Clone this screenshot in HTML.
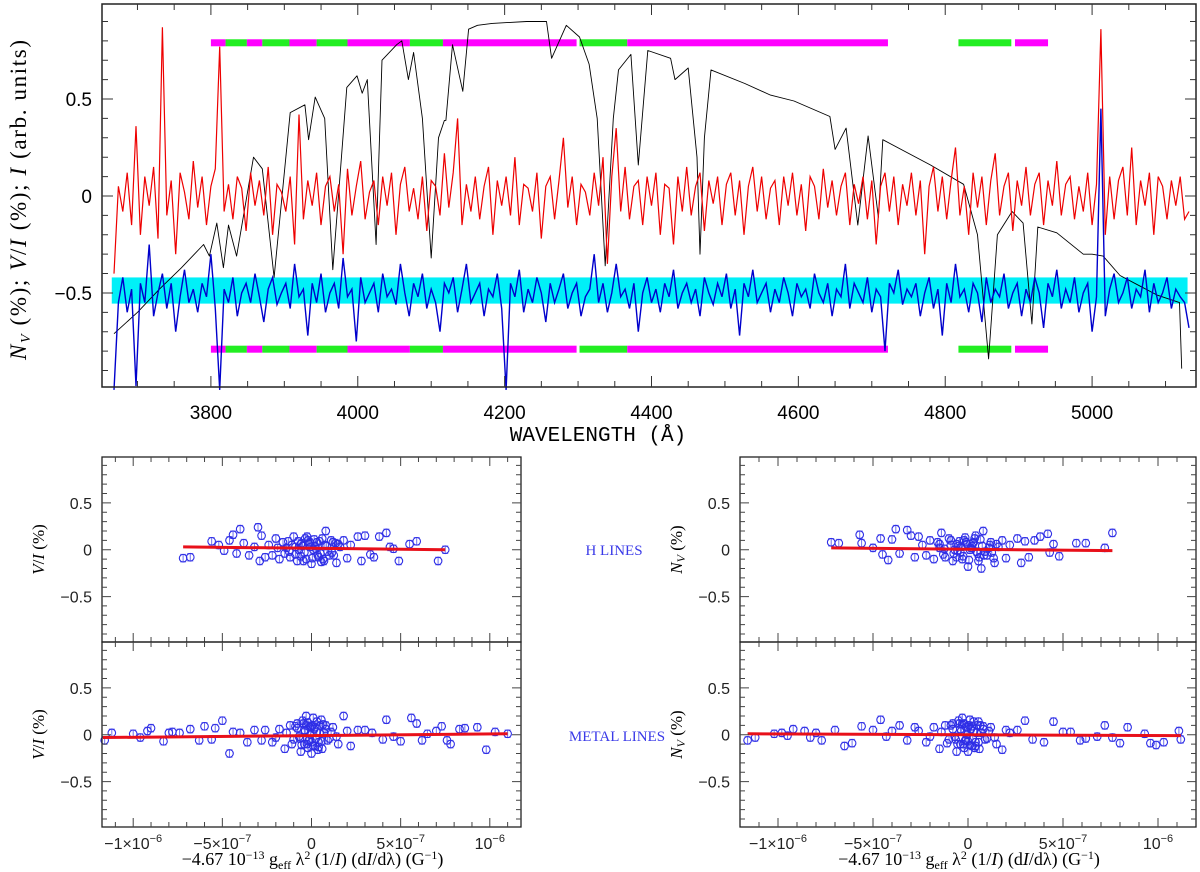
<!DOCTYPE html>
<html><head><meta charset="utf-8"><style>
html,body{margin:0;padding:0;background:#fff;}
svg{display:block;}
text{font-family:"Liberation Sans",sans-serif;}
.ser{font-family:"Liberation Serif",serif;}
.mono{font-family:"Liberation Mono",monospace;}
</style></head><body>
<svg id="fig" width="1200" height="872" viewBox="0 0 1200 872" xmlns="http://www.w3.org/2000/svg">
<g id="topPanel"></g>
<g id="botPanels"></g>
<text x="598" y="441" class="mono" font-size="21" text-anchor="middle">WAVELENGTH (Å)</text>
<text transform="translate(26,200) rotate(-90)" class="ser" font-size="23" text-anchor="middle" textLength="320" lengthAdjust="spacing"><tspan font-style="italic">N</tspan><tspan font-size="14" font-style="italic" dy="4">V</tspan><tspan dy="-4"> (%); </tspan><tspan font-style="italic">V</tspan>/<tspan font-style="italic">I</tspan> (%); <tspan font-style="italic">I</tspan> (arb. units)</text>
<text x="614" y="555" class="ser" font-size="15" fill="#3a3ae8" text-anchor="middle">H LINES</text>
<text x="617" y="741" class="ser" font-size="15" fill="#3a3ae8" text-anchor="middle">METAL LINES</text>
</svg>
<script>
// ---------- TOP PANEL DATA ----------
const gridStart = 3668, gridStep = 6;
const stokesV = [
-0.40,0.05,-0.08,0.12,-0.15,0.36,-0.20,0.10,-0.05,0.15,
-0.22,0.87,-0.10,0.08,-0.30,0.12,0.02,-0.12,0.18,-0.06,
0.10,-0.15,0.05,0.14,0.77,-0.08,0.06,-0.12,0.10,0.04,
-0.18,0.12,-0.05,0.08,-0.10,0.15,-0.20,0.06,0.02,-0.08,
0.10,-0.25,0.42,-0.12,0.08,-0.05,0.12,-0.15,0.05,0.10,
-0.08,0.06,-0.30,0.14,-0.10,0.05,0.18,-0.12,0.02,0.08,
-0.15,0.10,-0.05,0.12,-0.20,0.06,0.15,-0.08,0.04,-0.12,
0.10,-0.18,0.08,0.05,-0.10,0.22,-0.06,0.12,0.40,-0.15,
0.06,-0.08,0.10,-0.12,0.05,0.15,-0.20,0.08,-0.05,0.10,
-0.10,0.20,-0.15,0.06,0.04,-0.08,0.12,-0.22,0.05,0.10,
-0.12,0.08,0.30,-0.06,0.10,-0.15,0.06,0.02,-0.10,0.12,
-0.05,0.20,-0.35,0.10,0.35,-0.08,0.15,-0.12,0.05,0.08,
-0.15,0.10,-0.05,0.12,-0.20,0.06,0.04,-0.25,0.10,-0.08,
0.15,-0.10,0.05,0.12,-0.18,0.08,-0.04,0.10,-0.15,0.06,
0.12,-0.10,0.08,-0.20,0.05,0.15,-0.08,0.10,-0.12,0.04,
0.08,-0.15,0.10,-0.05,0.12,-0.10,0.06,-0.18,0.10,0.05,
-0.12,0.14,-0.06,0.08,-0.10,0.05,0.12,-0.15,0.06,-0.04,
0.10,-0.12,0.08,-0.25,0.05,0.12,-0.08,0.10,-0.15,0.06,
-0.05,0.12,-0.10,0.08,-0.30,0.05,0.15,-0.08,0.10,-0.12,
0.08,0.25,-0.10,0.05,-0.20,0.12,-0.06,0.10,-0.15,0.08,
0.22,-0.10,0.05,0.12,-0.18,0.08,-0.05,0.15,-0.10,0.06,
0.12,-0.15,0.08,-0.05,0.18,-0.10,0.06,0.10,-0.12,0.05,
-0.08,0.12,-0.15,0.06,0.86,-0.20,0.10,-0.12,0.08,0.15,
-0.10,0.25,-0.15,0.08,-0.05,0.12,-0.20,0.10,0.05,-0.12,
0.08,-0.05,0.10,-0.12,-0.08];
const nullN = [
-1.00,-0.55,-0.42,-0.60,-0.48,-0.98,-0.45,-0.55,-0.25,-0.62,
-0.50,-0.40,-0.58,-0.45,-0.70,-0.52,-0.38,-0.55,-0.48,-0.60,
-0.45,-0.52,-0.30,-0.58,-1.00,-0.48,-0.55,-0.42,-0.62,-0.50,
-0.45,-0.55,-0.40,-0.52,-0.65,-0.48,-0.42,-0.56,-0.50,-0.45,
-0.58,-0.35,-0.52,-0.48,-0.72,-0.45,-0.55,-0.40,-0.60,-0.50,
-0.45,-0.58,-0.32,-0.52,-0.48,-0.75,-0.42,-0.55,-0.50,-0.45,
-0.60,-0.40,-0.52,-0.48,-0.56,-0.35,-0.50,-0.62,-0.45,-0.52,
-0.40,-0.58,-0.48,-0.55,-0.70,-0.45,-0.50,-0.42,-0.60,-0.48,
-0.35,-0.55,-0.50,-0.45,-0.62,-0.48,-0.52,-0.40,-0.58,-1.00,
-0.45,-0.52,-0.38,-0.60,-0.48,-0.55,-0.42,-0.50,-0.65,-0.45,
-0.55,-0.48,-0.40,-0.58,-0.50,-0.45,-0.62,-0.52,-0.48,-0.30,
-0.55,-0.45,-0.60,-0.50,-0.35,-0.52,-0.48,-0.58,-0.45,-0.70,
-0.50,-0.42,-0.55,-0.48,-0.60,-0.45,-0.52,-0.38,-0.58,-0.50,
-0.45,-0.55,-0.48,-0.62,-0.42,-0.50,-0.56,-0.45,-0.52,-0.40,
-0.58,-0.48,-0.72,-0.45,-0.52,-0.38,-0.55,-0.50,-0.45,-0.60,
-0.48,-0.55,-0.42,-0.50,-0.62,-0.45,-0.52,-0.48,-0.58,-0.40,
-0.50,-0.55,-0.45,-0.62,-0.48,-0.52,-0.35,-0.58,-0.45,-0.50,
-0.55,-0.42,-0.60,-0.48,-0.52,-0.80,-0.45,-0.50,-0.38,-0.56,
-0.48,-0.52,-0.45,-0.62,-0.50,-0.42,-0.58,-0.48,-0.72,-0.45,
-0.55,-0.35,-0.52,-0.48,-0.60,-0.45,-0.50,-0.65,-0.42,-0.55,
-0.48,-0.52,-0.40,-0.58,-0.50,-0.45,-0.62,-0.48,-0.55,-0.42,
-0.50,-0.68,-0.45,-0.52,-0.38,-0.58,-0.48,-0.55,-0.42,-0.60,
-0.50,-0.45,-0.70,-0.52,0.45,-0.62,-0.48,-0.40,-0.55,-0.50,
-0.42,-0.58,-0.48,-0.52,-0.38,-0.60,-0.45,-0.55,-0.50,-0.42,
-0.58,-0.48,-0.52,-0.55,-0.68];
const specWl = [3668,3700,3730,3760,3790,3798,3808,3817,3824,3835,3858,3870,3886,3908,3928,3933,3942,3955,3966,3985,3999,4006,4013,4025,4033,4053,4060,4069,4076,4088,4100,4110,4118,4120,4129,4143,4151,4163,4183,4230,4257,4264,4284,4302,4315,4326,4337,4348,4355,4372,4382,4395,4426,4432,4450,4462,4466,4472,4481,4527,4562,4594,4643,4650,4665,4681,4695,4709,4715,4780,4825,4844,4859,4871,4891,4906,4918,4926,4952,4988,5000,5015,5038,5088,5119,5122];
const specI  = [-0.71,-0.60,-0.48,-0.37,-0.25,-0.31,-0.14,-0.37,-0.15,-0.31,0.20,0.14,-0.42,0.43,0.47,0.29,0.51,0.40,-0.38,0.56,0.62,0.53,0.60,-0.25,0.70,0.78,0.80,0.60,0.74,0.40,-0.32,0.30,0.39,0.39,0.78,0.54,0.86,0.88,0.89,0.90,0.90,0.71,0.88,0.82,0.68,0.40,-0.36,0.40,0.65,0.73,0.16,0.75,0.71,0.60,0.66,0.20,-0.30,0.30,0.65,0.58,0.52,0.49,0.41,0.24,0.35,-0.15,0.31,-0.11,0.29,0.16,0.06,-0.20,-0.84,-0.20,-0.08,-0.14,-0.66,-0.16,-0.19,-0.30,-0.30,-0.31,-0.41,-0.51,-0.55,-0.89];
const segStart = [3800,3820,3849,3870,3907,3944,3986,4071,4116,4302,4367,4818,4895];
const segEnd   = [3820,3849,3870,3907,3944,3986,4071,4116,4298,4367,4722,4890,4940];
const segKind  = ["m","g","m","g","m","g","m","g","m","g","m","g","m"];
const bandRange = [3665,5130];
const bandLevels = [-0.42,-0.555];
const xTicksTop = [3800,4000,4200,4400,4600,4800,5000];
const yTicksTop = [-0.5,0,0.5];
const yTickLabelsTop = ["−0.5","0","0.5"];

// ---------- BOTTOM PANELS DATA (x in units of 1e-7) ----------
const hLeftX = [-7.2,-6.8,-5.6,-5.2,-4.9,-4.6,-4.4,-4.2,-4.0,-3.8,-3.5,-3.2,-3.0,-2.9,-2.8,-2.6,2.6,2.8,3.0,3.3,3.5,3.8,4.2,4.4,4.6,4.9,5.5,5.9,7.1,7.5,
-2.4,-2.2,-2.0,-1.8,-1.6,-1.4,-1.2,-1.0,-0.8,-0.6,-0.4,-0.2,0.0,0.2,0.4,0.6,0.8,1.0,1.2,1.4,1.6,1.8,2.0,2.2,-1.9,-1.1,-0.3,0.3,0.9,1.5,-0.7,0.1,0.5,-0.5,-0.1,0.7,-0.9,1.1,
-1.5,-1.3,-0.9,-0.6,-0.35,-0.15,0.05,0.25,0.45,0.65,0.85,1.15,1.35,-0.45,-0.25,0.15,0.35,-0.75,0.75,-1.25,1.25,-0.05,0.55,-0.55];
const hLeftY = [-0.09,-0.08,0.09,0.05,-0.01,0.10,0.16,-0.04,0.22,0.07,-0.06,0.03,0.24,-0.12,0.15,-0.08,0.14,-0.12,0.15,-0.05,-0.08,0.14,0.18,0.03,0.01,-0.12,0.06,0.09,-0.12,0.00,
0.05,-0.06,0.12,-0.10,0.08,0.02,-0.08,0.14,-0.12,0.06,-0.03,0.10,-0.15,0.04,-0.08,0.12,0.20,-0.06,0.08,-0.14,0.03,0.10,-0.09,0.05,0.02,0.05,-0.10,0.08,-0.02,0.06,0.00,0.00,-0.04,0.04,0.08,-0.12,-0.05,0.10,
-0.04,0.09,0.03,-0.07,0.12,0.06,-0.09,0.01,0.09,-0.10,0.04,-0.03,0.07,-0.12,0.14,0.11,-0.06,0.09,0.05,-0.02,-0.06,0.03,-0.13,0.07];
const hRightX = [-7.2,-6.8,-5.7,-5.6,-5.0,-4.6,-4.5,-4.2,-4.0,-3.8,-3.6,-3.2,-3.0,-2.8,-2.6,-2.4,2.6,2.8,3.0,3.2,3.5,3.8,4.2,4.3,4.5,4.8,5.7,6.2,7.2,7.6,
-2.2,-2.0,-1.8,-1.6,-1.4,-1.2,-1.0,-0.8,-0.6,-0.4,-0.2,0.0,0.2,0.4,0.6,0.8,1.0,1.2,1.4,1.6,1.8,2.0,2.2,-1.5,-0.9,-0.3,0.3,0.9,1.5,-0.7,0.1,0.5,-0.5,-0.1,0.7,1.1,
-1.5,-1.3,-0.9,-0.6,-0.35,-0.15,0.05,0.25,0.45,0.65,0.85,1.15,1.35,-0.45,-0.25,0.15,0.35,-0.75,0.75,-1.25,1.25,-0.05,0.55,-0.55];
const hRightY = [0.08,0.07,0.16,0.07,0.02,0.12,-0.05,-0.11,0.11,0.22,-0.04,0.21,0.15,-0.08,0.14,0.05,0.12,-0.14,0.09,-0.08,0.10,0.14,0.17,-0.03,0.06,-0.07,0.07,0.07,0.02,0.18,
-0.06,0.10,-0.10,0.08,0.18,-0.08,0.12,-0.12,0.06,-0.03,0.10,-0.18,0.04,0.15,-0.08,0.20,-0.06,0.08,-0.14,0.03,0.10,-0.09,0.05,0.02,0.05,-0.10,0.08,-0.02,0.06,0.00,0.00,-0.04,0.04,0.08,-0.20,0.02,
0.06,-0.05,0.10,-0.08,0.03,0.13,-0.11,0.07,-0.02,0.11,-0.06,0.05,-0.09,0.09,-0.07,0.02,0.12,-0.04,0.04,0.01,-0.03,0.06,-0.12,-0.01];
const mLeftX = [-11.6,-11.2,-10.0,-9.6,-9.2,-9.0,-8.3,-8.0,-7.8,-7.4,-6.8,-6.3,-6.0,-5.6,-5.4,-5.0,-4.6,-4.4,-4.0,-3.6,-3.2,-2.8,3.0,3.4,4.0,4.2,4.6,5.0,5.6,5.9,6.2,6.5,7.0,7.3,7.6,7.8,8.3,8.6,9.3,9.8,10.3,11.0,
-2.6,-2.2,-1.8,-1.5,-1.2,-1.0,-0.8,-0.6,-0.5,-0.4,-0.3,-0.2,-0.1,0.0,0.1,0.2,0.3,0.4,0.5,0.6,0.8,1.0,1.2,1.5,1.8,2.2,2.6,-0.35,-0.15,0.05,0.25,0.45,-0.25,0.15,-0.05,0.35,-0.45,0.55,-0.7,0.7,
-1.4,-1.1,-0.9,-0.65,-0.4,-0.2,0.0,0.2,0.4,0.65,0.9,1.1,1.4,-0.55,-0.3,-0.1,0.1,0.3,0.55,-0.8,0.8,-2.0,2.0,-0.02];
const mLeftY = [-0.06,0.02,0.01,-0.03,0.04,0.07,-0.07,0.02,0.03,0.02,0.06,-0.06,0.09,-0.05,0.07,0.15,-0.20,0.03,0.02,-0.08,0.05,-0.06,0.05,0.02,-0.05,0.16,-0.02,-0.07,0.18,0.12,-0.06,0.01,0.04,0.09,-0.06,-0.10,0.06,0.07,0.08,-0.16,0.03,0.01,
0.05,-0.08,0.06,-0.15,0.10,-0.05,0.12,-0.18,0.15,-0.10,0.20,-0.14,0.08,-0.20,0.18,-0.12,0.14,-0.08,0.10,-0.15,0.06,-0.04,0.08,-0.10,0.20,-0.12,0.05,0.04,-0.06,0.10,-0.04,0.02,-0.10,0.06,0.00,-0.16,0.12,0.16,-0.02,0.02,
0.02,-0.10,0.09,-0.04,0.05,0.13,-0.08,0.08,-0.13,0.11,-0.06,0.03,-0.02,-0.11,0.10,-0.05,-0.12,0.03,-0.07,0.07,0.10,-0.03,0.04,0.09];
const mRightX = [-11.6,-11.2,-10.2,-9.8,-9.5,-9.2,-8.6,-8.3,-8.0,-7.7,-7.0,-6.5,-6.1,-5.6,-5.0,-4.6,-4.3,-4.0,-3.6,-3.2,-2.8,3.0,3.4,4.0,4.5,5.0,5.4,5.9,6.2,6.8,7.2,7.6,8.0,8.4,9.3,9.6,9.9,10.3,11.1,11.2,
-2.6,-2.2,-1.8,-1.5,-1.2,-1.0,-0.8,-0.6,-0.5,-0.4,-0.3,-0.2,-0.1,0.0,0.1,0.2,0.3,0.4,0.5,0.6,0.8,1.0,1.2,1.5,1.8,2.2,2.6,-0.35,-0.15,0.05,0.25,0.45,-0.25,0.15,-0.05,0.35,-0.45,0.55,-0.7,0.7,
-1.4,-1.1,-0.9,-0.65,-0.4,-0.2,0.0,0.2,0.4,0.65,0.9,1.1,1.4,-0.55,-0.3,-0.1,0.1,0.3,0.55,-0.8,0.8,-2.0,2.0,-0.02];
const mRightY = [-0.06,-0.03,0.01,0.02,-0.01,0.06,0.04,-0.03,0.02,-0.06,0.05,-0.12,-0.09,0.09,0.05,0.16,-0.02,0.04,0.10,-0.06,0.08,0.15,-0.05,-0.08,0.14,0.03,0.03,-0.06,-0.04,-0.02,0.10,-0.03,-0.09,0.08,0.01,-0.09,-0.11,-0.08,0.04,-0.05,
0.04,-0.08,0.08,-0.15,0.10,-0.05,0.12,-0.18,0.15,-0.10,0.18,-0.14,0.08,-0.18,0.16,-0.12,0.14,-0.08,0.10,-0.15,0.06,-0.04,0.08,-0.10,-0.16,0.02,0.05,0.04,-0.06,0.10,-0.04,0.02,-0.10,0.06,0.00,-0.14,0.12,0.14,-0.02,0.02,
0.03,-0.09,0.10,-0.05,0.06,0.12,-0.07,0.09,-0.12,0.10,-0.05,0.04,-0.03,-0.10,0.11,-0.06,-0.11,0.04,-0.08,0.06,0.09,-0.02,0.05,0.08];
const fitHLeftX = [-7.2,7.5],  fitHLeftY = [0.03,0.0];
const fitHRightX = [-7.2,7.6], fitHRightY = [0.02,-0.01];
const fitMLeftX = [-11.7,11.0], fitMLeftY = [-0.03,0.01];
const fitMRightX = [-11.6,11.2], fitMRightY = [0.01,-0.01];
const errBar = 0.04;
const xTicksBot = [-10,-5,0,5,10];
const yTicksBot = [-0.5,0,0.5];

// ---------- helpers ----------
const SVGNS = "http://www.w3.org/2000/svg";
function mk(tag, attrs, parent){ const e=document.createElementNS(SVGNS,tag); for(const k in attrs) e.setAttribute(k,attrs[k]); parent.appendChild(e); return e; }

// ---------- TOP PANEL ----------
const topG = document.getElementById('topPanel');
const T = {l:102, r:1196, t:4, b:387, x0:3651.7, x1:5141.5, y0:-0.985, y1:0.99};
const tx = w => T.l + (w - T.x0)/(T.x1 - T.x0)*(T.r - T.l);
const ty = v => T.b - (v - T.y0)/(T.y1 - T.y0)*(T.b - T.t);

const band = mk('rect',{x:tx(bandRange[0]), y:ty(bandLevels[0]), width:tx(bandRange[1])-tx(bandRange[0]), height:ty(bandLevels[1])-ty(bandLevels[0]), fill:'#00f0f8'}, topG);



[0.79,-0.79].forEach((lev,li)=>{
  segStart.forEach((s,i)=>{
    const r = mk('rect',{x:tx(s), y:ty(lev)-3.5, width:tx(segEnd[i])-tx(s), height:7, fill: segKind[i]==='g' ? '#22ee22' : '#ff00ff'}, topG);
    
    
  });
});

let pd = specWl.map((w,i)=>(i?'L':'M')+tx(w).toFixed(1)+','+ty(specI[i]).toFixed(1)).join('');
const spec = mk('path',{d:pd, fill:'none', stroke:'#000', 'stroke-width':0.9, 'stroke-linejoin':'round'}, topG);



pd = stokesV.map((v,i)=>(i?'L':'M')+tx(gridStart+i*gridStep).toFixed(1)+','+ty(v).toFixed(1)).join('');
const vline = mk('path',{d:pd, fill:'none', stroke:'#ee0000', 'stroke-width':1.2}, topG);



pd = nullN.map((v,i)=>(i?'L':'M')+tx(gridStart+i*gridStep).toFixed(1)+','+ty(v).toFixed(1)).join('');
const nline = mk('path',{d:pd, fill:'none', stroke:'#0000cc', 'stroke-width':1.4}, topG);



const tf = mk('rect',{x:T.l, y:T.t, width:T.r-T.l, height:T.b-T.t, fill:'none', stroke:'#222', 'stroke-width':1.5}, topG);


let tk = '';
for(let w=3700; w<=5100; w+=50){ const x=tx(w); const L=(w%200===0)?11:6; tk+=`M${x},${T.b}v${-L}M${x},${T.t}v${L}`; }
for(let k=-9; k<=9; k++){ const y=ty(k/10); const L=(k%5===0)?11:6; tk+=`M${T.l},${y}h${L}M${T.r},${y}h${-L}`; }
mk('path',{d:tk, stroke:'#333', 'stroke-width':1, fill:'none'}, topG);
xTicksTop.forEach(w=>{
  const t=mk('text',{x:tx(w), y:T.b+32, 'font-size':19, 'text-anchor':'middle'}, topG); t.textContent=w;
  
  
});
yTicksTop.forEach((v,i)=>{
  const t=mk('text',{x:T.l-10, y:ty(v)+7, 'font-size':19, 'text-anchor':'end'}, topG); t.textContent=yTickLabelsTop[i];
  
  
});

// ---------- BOTTOM PANELS ----------
const botG = document.getElementById('botPanels');
function panel(P, xs, ys, fx, fy, name, showX, ylabel){
  const g = mk('g',{}, botG);
  
  
  const sx = v => P.l + (v - P.x0)/(P.x1-P.x0)*(P.r-P.l);
  const sy = v => P.b - (v - P.y0)/(P.y1-P.y0)*(P.b-P.t);
  let eb='';
  xs.forEach((x,i)=>{ const X=sx(x), y1=sy(ys[i]+errBar), y2=sy(ys[i]-errBar); eb+=`M${X},${y1}V${y2}M${X-3},${y1}h6M${X-3},${y2}h6`; });
  mk('path',{d:eb, stroke:'#7070f0', 'stroke-width':1, fill:'none'}, g);
  xs.forEach((x,i)=>{
    const c = mk('circle',{cx:sx(x), cy:sy(ys[i]), r:3.8, fill:'none', stroke:'#2e2ee6', 'stroke-width':1.1}, g);
    
    
  });
  const fl = mk('line',{x1:sx(fx[0]), y1:sy(fy[0]), x2:sx(fx[1]), y2:sy(fy[1]), stroke:'#e8101a', 'stroke-width':3}, g);
  
  
  mk('rect',{x:P.l, y:P.t, width:P.r-P.l, height:P.b-P.t, fill:'none', stroke:'#222', 'stroke-width':1.3}, g);
  let tk='';
  for(let k=-11;k<=11;k++){ const X=sx(k); if(X<P.l||X>P.r) continue; const L=(k%5===0)?9:5; tk+=`M${X},${P.b}v${-L}M${X},${P.t}v${L}`; }
  for(let k=-9;k<=9;k++){ const y=sy(k/10); const L=(k%5===0)?9:5; tk+=`M${P.l},${y}h${L}M${P.r},${y}h${-L}`; }
  mk('path',{d:tk, stroke:'#444', 'stroke-width':1, fill:'none'}, g);
  yTicksBot.forEach(v=>{
    const t=mk('text',{x:P.l-10, y:sy(v)+6, 'font-size':16, 'text-anchor':'end', fill:'#222'}, g);
    t.textContent = v===0 ? '0' : (v<0 ? '−0.5' : '0.5');
    
    
  });
  const yl = mk('text',{transform:`translate(${P.l-58},${(P.t+P.b)/2}) rotate(-90)`, 'font-size':17, 'text-anchor':'middle', class:'ser'}, g);
  yl.innerHTML = ylabel;
  
  
  if(showX){
    xTicksBot.forEach(k=>{
      const t=mk('text',{x:sx(k), y:P.b+22, 'font-size':16, 'text-anchor':'middle', fill:'#222'}, g);
      if(k===0) t.textContent='0';
      else if(k===10) t.innerHTML='10<tspan font-size="11" dy="-7">−6</tspan>';
      else if(k===-10) t.innerHTML='−1×10<tspan font-size="11" dy="-7">−6</tspan>';
      else if(k===5) t.innerHTML='5×10<tspan font-size="11" dy="-7">−7</tspan>';
      else t.innerHTML='−5×10<tspan font-size="11" dy="-7">−7</tspan>';
      
      
    });
    const xt = mk('text',{x:(P.l+P.r)/2+1, y:P.b+38, 'font-size':18, 'text-anchor':'middle', class:'ser'}, g);
    xt.innerHTML='−4.67 10<tspan font-size="12" dy="-6">−13</tspan><tspan dy="6"> g</tspan><tspan font-size="12" dy="4">eff</tspan><tspan dy="-4"> λ</tspan><tspan font-size="12" dy="-6">2</tspan><tspan dy="6"> (1/</tspan><tspan font-style="italic">I</tspan>) (d<tspan font-style="italic">I</tspan>/dλ) (G<tspan font-size="12" dy="-6">−1</tspan><tspan dy="6">)</tspan>';
    
    
  }
}
const VI = '<tspan font-style="italic">V</tspan>/<tspan font-style="italic">I</tspan> (%)';
const NV = '<tspan font-style="italic">N</tspan><tspan font-size="12" font-style="italic" dy="3">V</tspan><tspan dy="-3"> (%)</tspan>';
const LP = {l:102, r:521, x0:-11.75, x1:11.75, y0:-0.985, y1:0.99};
const RP = {l:740, r:1196, x0:-12.0, x1:12.0, y0:-0.985, y1:0.99};
panel(Object.assign({t:457,b:642},LP), hLeftX, hLeftY, fitHLeftX, fitHLeftY, 'h-lines-vi-panel', false, VI);
panel(Object.assign({t:642,b:827},LP), mLeftX, mLeftY, fitMLeftX, fitMLeftY, 'metal-lines-vi-panel', true, VI);
panel(Object.assign({t:457,b:642},RP), hRightX, hRightY, fitHRightX, fitHRightY, 'h-lines-nv-panel', false, NV);
panel(Object.assign({t:642,b:827},RP), mRightX, mRightY, fitMRightX, fitMRightY, 'metal-lines-nv-panel', true, NV);
</script>
</body></html>
